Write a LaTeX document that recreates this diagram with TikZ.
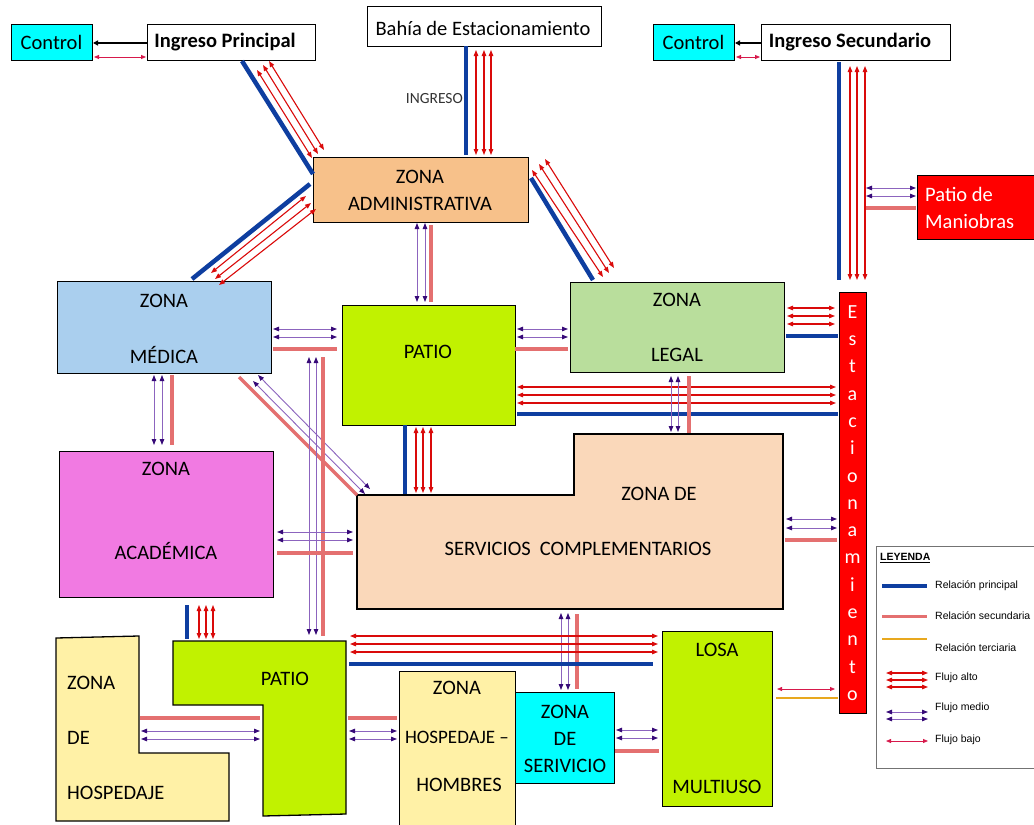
\documentclass[tikz,border=0pt]{standalone}
\usepackage{fontspec}
\setmainfont{Carlito}
\newfontfamily\legfont{Liberation Sans}
\usetikzlibrary{arrows.meta}
\definecolor{cPrin}{RGB}{14,62,160}
\definecolor{cSec}{RGB}{228,112,112}
\definecolor{cTer}{RGB}{232,168,30}
\definecolor{cAlto}{RGB}{218,10,10}
\definecolor{cMedio}{RGB}{140,100,190}
\definecolor{cMedHead}{RGB}{55,10,120}
\definecolor{cBajo}{RGB}{215,25,75}
\definecolor{cCyan}{RGB}{0,255,255}
\definecolor{cAdmin}{RGB}{247,193,138}
\definecolor{cMed}{RGB}{170,207,238}
\definecolor{cLime}{RGB}{193,242,0}
\definecolor{cLegal}{RGB}{185,222,156}
\definecolor{cAcad}{RGB}{241,122,226}
\definecolor{cServ}{RGB}{250,216,186}
\definecolor{cHosp}{RGB}{255,241,166}
\definecolor{cRed}{RGB}{255,0,0}
\tikzset{
  zbox/.style={draw=black, line width=1.3pt, inner sep=0pt, anchor=north west},
  zshape/.style={draw=black, line width=1.3pt},
  ztext/.style={font=\fontsize{20.5}{22}\selectfont, inner sep=0pt},
  ltext/.style={font=\legfont\fontsize{10.5}{13}\selectfont, inner sep=0pt, anchor=west},
  fAlto/.style={draw=cAlto, line width=1.1pt, {Triangle[length=6pt,width=4.5pt]}-{Triangle[length=6pt,width=4.5pt]}},
  fMedio/.style={draw=cMedio, line width=0.9pt, {Triangle[length=6pt,width=4.5pt,color=cMedHead]}-{Triangle[length=6pt,width=4.5pt,color=cMedHead]}},
  fBajo/.style={draw=cBajo, line width=0.8pt, {Triangle[length=5pt,width=4pt]}-{Triangle[length=5pt,width=4pt]}},
  rPrin/.style={draw=cPrin, line width=4.5pt},
  rSec/.style={draw=cSec, line width=3.5pt},
  rTer/.style={draw=cTer, line width=1.6pt},
}
\begin{document}
\begin{tikzpicture}[x=1pt,y=-1pt]
\useasboundingbox (0,0) rectangle (1034,825);
\clip (0,0) rectangle (1034,825);
\fill[white] (0,0) rectangle (1034,825);

% ---------- boxes ----------
\node[zbox, fill=cCyan, minimum width=81pt, minimum height=36pt] (ctrlL) at (11,24) {};
\node[ztext] (tctrlL) at (51.5,42) {Control};
\node[zbox, fill=white, minimum width=168pt, minimum height=36pt] (ingP) at (147,24) {};
\node[ztext, font=\fontsize{20.5}{22}\selectfont\bfseries] (tingP) at (225,42) {Ingreso Principal};
\node[zbox, fill=white, minimum width=234pt, minimum height=40pt] (bahia) at (367,6) {};
\node[ztext] (tbahia) at (483,28) {Bahía de Estacionamiento};
\node[zbox, fill=cCyan, minimum width=81pt, minimum height=36pt] (ctrlR) at (653,24) {};
\node[ztext] (tctrlR) at (693.5,42) {Control};
\node[zbox, fill=white, minimum width=189pt, minimum height=36pt] (ingS) at (761,24) {};
\node[ztext, font=\fontsize{20.5}{22}\selectfont\bfseries] (tingS) at (850,42) {Ingreso Secundario};

\node[ztext, font=\fontsize{15.5}{17}\selectfont, text=black!80, anchor=east] (tingreso) at (463,99) {INGRESO};

\node[zbox, fill=cAdmin, minimum width=215pt, minimum height=65pt] (admin) at (313,157) {};
\node[ztext] (tadmin1) at (420,177) {ZONA};
\node[ztext] (tadmin2) at (420,204) {ADMINISTRATIVA};

\node[zbox, fill=cMed, minimum width=214pt, minimum height=92pt] (medica) at (57,281) {};
\node[ztext] (tmed1) at (164,301) {ZONA};
\node[ztext] (tmed2) at (164,355) {MÉDICA};

\node[zbox, fill=cLime, minimum width=173pt, minimum height=120pt] (patio1) at (342,305) {};
\node[ztext] (tpatio1) at (428,352) {PATIO};

\node[zbox, fill=cLegal, minimum width=214pt, minimum height=90pt] (legal) at (570,282) {};
\node[ztext] (tlegal1) at (677,300) {ZONA};
\node[ztext] (tlegal2) at (677,355) {LEGAL};

\node[zbox, fill=cRed, minimum width=125pt, minimum height=64pt] (maniobras) at (917,175) {};
\node[ztext, text=white, anchor=west, align=left, font=\fontsize{20.5}{27}\selectfont] (tmaniobras) at (925,207.5) {Patio de\\Maniobras};

\node[zbox, fill=cRed, minimum width=27pt, minimum height=421pt] (estac) at (839,292) {};
\node[ztext, text=white, align=center, font=\fontsize{20}{27.3}\selectfont] (testac) at (852.5,503)
  {E\\s\\t\\a\\c\\i\\o\\n\\a\\m\\i\\e\\n\\t\\o};

\node[zbox, fill=cAcad, minimum width=214pt, minimum height=146pt] (academica) at (59,451) {};
\node[ztext] (tacad1) at (166,469) {ZONA};
\node[ztext] (tacad2) at (166,551) {ACADÉMICA};

\draw[zshape, fill=cServ] (357,495) -- (574,495) -- (574,434) -- (783,434) -- (783,609) -- (357,609) -- cycle;
\coordinate (servicios) at (570,550);
\node[ztext] (tserv1) at (659,494) {ZONA DE};
\node[ztext] (tserv2) at (578,549) {SERVICIOS\ \ COMPLEMENTARIOS};

\draw[zshape, fill=cHosp] (56,638) -- (139,636) -- (139,753) -- (229,753) -- (229,821) -- (56,821) -- cycle;
\node[ztext, anchor=west] (thosp1) at (67,683) {ZONA};
\node[ztext, anchor=west] (thosp2) at (67,738) {DE};
\node[ztext, anchor=west] (thosp3) at (67,793) {HOSPEDAJE};

\draw[zshape, fill=cLime] (173,641) -- (346,641) -- (346,814) -- (263,816) -- (263,705) -- (173,705) -- cycle;
\node[ztext] (tpatio2) at (285,679) {PATIO};

\node[zbox, fill=cHosp, minimum width=116pt, minimum height=170pt] (hombres) at (399,671) {};
\node[ztext] (thom1) at (457,688) {ZONA};
\node[ztext, font=\fontsize{19}{22}\selectfont] (thom2) at (457,737) {HOSPEDAJE –};
\node[ztext] (thom3) at (459,785) {HOMBRES};

\node[zbox, fill=cCyan, minimum width=99pt, minimum height=91pt] (servicio) at (515,692) {};
\node[ztext] (tsvc1) at (565,712) {ZONA};
\node[ztext] (tsvc2) at (565,739) {DE};
\node[ztext] (tsvc3) at (565,766) {SERIVICIO};

\node[zbox, fill=cLime, minimum width=110pt, minimum height=175pt] (losa) at (662,631) {};
\node[ztext] (tlosa1) at (717,650) {LOSA};
\node[ztext] (tlosa2) at (717,787) {MULTIUSO};

% ---------- connectors ----------
% top controls
\draw[black, line width=1.6pt, -{Triangle[length=5pt,width=5pt]}] (147,43) -- (93,43);
\draw[fBajo] (94,57) -- (146,57);
\draw[black, line width=1.6pt, -{Triangle[length=5pt,width=5pt]}] (761,43) -- (735,43);
\draw[fBajo] (736,57) -- (760,57);

% Ingreso principal - admin
\draw[rPrin] (242,61) -- (313,174);
\draw[fAlto] (269,61) -- (324,150);
\draw[fAlto] (263,65) -- (318,154);
\draw[fAlto] (257,70) -- (312,158);

% Bahia - admin
\draw[rPrin] (466,46) -- (466,155);
\draw[fAlto] (476,50) -- (476,155);
\draw[fAlto] (484,50) -- (484,155);
\draw[fAlto] (491,50) -- (491,155);

% admin - medica
\draw[rPrin] (310,184) -- (192,279);
\draw[fAlto] (306,196) -- (211,273);
\draw[fAlto] (311,203) -- (215,279);
\draw[fAlto] (316,209) -- (219,285);

% admin - legal
\draw[rPrin] (531,178) -- (593,280);
\draw[fAlto] (532,170) -- (603,277);
\draw[fAlto] (539,164) -- (609,273);
\draw[fAlto] (545,159) -- (614,268);

% admin - patio
\draw[fMedio] (417,223) -- (417,302);
\draw[fMedio] (425,223) -- (425,302);
\draw[rSec] (431,225) -- (431,302);

% medica - patio
\draw[fMedio] (273,329) -- (337,329);
\draw[fMedio] (273,337) -- (337,337);
\draw[rSec] (273,349) -- (337,349);

% patio - legal
\draw[fMedio] (517,329) -- (568,329);
\draw[fMedio] (517,337) -- (568,337);
\draw[rSec] (515,349) -- (568,349);

% legal - estacionamiento
\draw[fAlto] (787,308) -- (835,308);
\draw[fAlto] (787,316) -- (835,316);
\draw[fAlto] (787,324) -- (835,324);
\draw[rPrin] (786,336) -- (838,336);

% patio - estacionamiento
\draw[fAlto] (517,387) -- (836,387);
\draw[fAlto] (517,395) -- (836,395);
\draw[fAlto] (517,403) -- (836,403);
\draw[rPrin] (517,414) -- (838,414);

% legal - servicios
\draw[fMedio] (671,376) -- (671,432);
\draw[fMedio] (678,376) -- (678,432);
\draw[rSec] (689,376) -- (689,433);

% ingreso secundario - estacionamiento
\draw[rPrin] (839,62) -- (839,280);
\draw[fAlto] (850,66) -- (850,280);
\draw[fAlto] (857,66) -- (857,280);
\draw[fAlto] (865,66) -- (865,280);

% maniobras
\draw[fMedio] (866,188) -- (916,188);
\draw[fMedio] (866,196) -- (916,196);
\draw[rSec] (866,208) -- (916,208);

% medica - academica
\draw[fMedio] (154,375) -- (154,445);
\draw[fMedio] (162,375) -- (162,445);
\draw[rSec] (172,375) -- (172,445);

% medica - servicios (diagonal)
\draw[rSec] (239,377) -- (357,495);
\draw[fMedio] (258,375) -- (370,489);
\draw[fMedio] (253,381) -- (365,494);

% medica - patio inferior (long vertical)
\draw[fMedio] (309,357) -- (309,635);
\draw[fMedio] (316,357) -- (316,635);
\draw[rSec] (323,357) -- (323,636);

% patio - servicios
\draw[rPrin] (405,425) -- (405,494);
\draw[fAlto] (416,427) -- (416,493);
\draw[fAlto] (423,427) -- (423,493);
\draw[fAlto] (431,427) -- (431,493);

% academica - servicios
\draw[fMedio] (277,532) -- (353,532);
\draw[fMedio] (277,540) -- (353,540);
\draw[rSec] (277,553) -- (353,553);

% servicios - estacionamiento
\draw[fMedio] (786,519) -- (837,519);
\draw[fMedio] (786,528) -- (837,528);
\draw[rSec] (785,540) -- (837,540);

% academica - patio inferior
\draw[rPrin] (187,605) -- (187,639);
\draw[fAlto] (199,605) -- (199,639);
\draw[fAlto] (206,605) -- (206,639);
\draw[fAlto] (213,605) -- (213,639);

% hospedaje - patio inferior
\draw[rSec] (140,718) -- (260,718);
\draw[fMedio] (141,731) -- (260,731);
\draw[fMedio] (141,739) -- (260,739);

% patio inferior - hombres
\draw[rSec] (348,718) -- (397,718);
\draw[fMedio] (349,731) -- (397,731);
\draw[fMedio] (349,739) -- (397,739);

% servicios - zona de servicio
\draw[fMedio] (561,613) -- (561,690);
\draw[fMedio] (568,613) -- (568,690);
\draw[rSec] (577,614) -- (577,689);

% patio inferior - losa
\draw[fAlto] (350,636) -- (658,636);
\draw[fAlto] (350,644) -- (658,644);
\draw[fAlto] (350,652) -- (658,652);
\draw[rPrin] (349,664) -- (653,664);

% zona de servicio - losa
\draw[fMedio] (616,730) -- (658,730);
\draw[fMedio] (616,738) -- (658,738);
\draw[rSec] (615,751) -- (659,751);

% losa - estacionamiento
\draw[fBajo] (777,689) -- (835,689);
\draw[rTer] (776,698) -- (838,698);

% ---------- legend ----------
\draw[draw=black!55, line width=0.8pt, fill=white] (876,546) rectangle (1045,768);
\node[ltext, font=\legfont\fontsize{10.5}{13}\selectfont\bfseries] (lt0) at (880,558) {\underline{LEYENDA}};
\draw[rPrin, line width=4pt] (882,586) -- (927,586);
\node[ltext] (lt1) at (935,586) {Relación principal};
\draw[rSec, line width=3pt] (882,616) -- (927,616);
\node[ltext] (lt2) at (935,616) {Relación secundaria};
\draw[rTer, line width=1.2pt] (882,639) -- (927,639);
\node[ltext] (lt3) at (935,648) {Relación terciaria};
\draw[fAlto] (886,673) -- (928,673);
\draw[fAlto] (886,680) -- (928,680);
\draw[fAlto] (886,687) -- (928,687);
\node[ltext] (lt4) at (935,678) {Flujo alto};
\draw[fMedio] (886,712) -- (928,712);
\draw[fMedio] (886,719) -- (928,719);
\node[ltext] (lt5) at (935,708) {Flujo medio};
\draw[fBajo] (886,741) -- (928,741);
\node[ltext] (lt6) at (935,740) {Flujo bajo};
\end{tikzpicture}
\end{document}
